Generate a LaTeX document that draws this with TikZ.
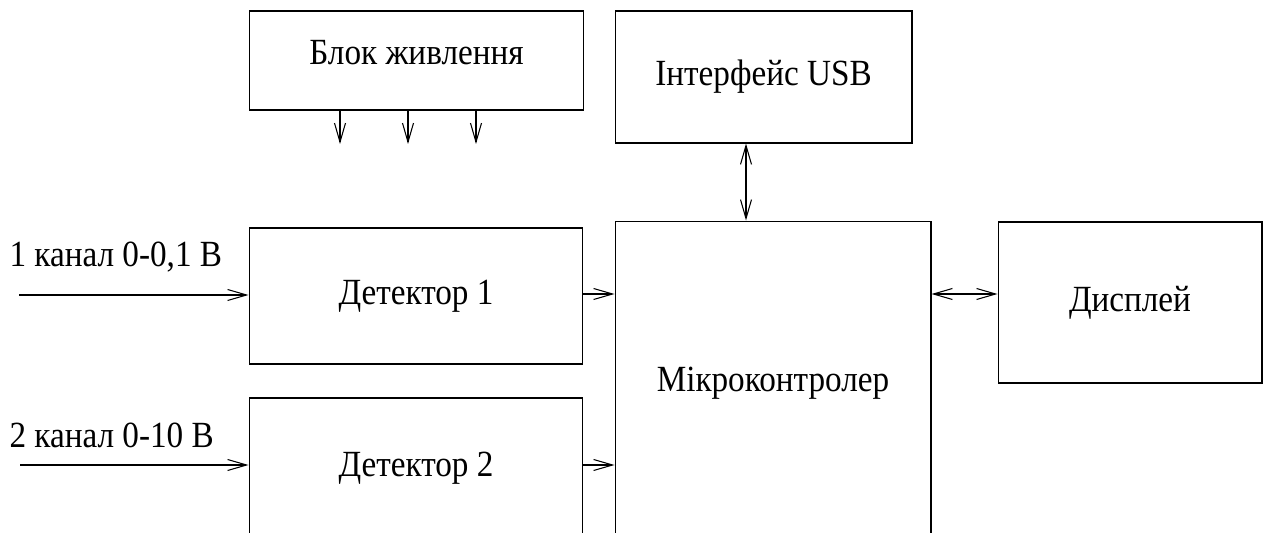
\documentclass[tikz,border=0pt]{standalone}
\usepackage{fontspec}
\setmainfont[FakeStretch=0.9]{Liberation Serif}
\usetikzlibrary{arrows.meta}
\begin{document}
\begin{tikzpicture}[x=0.02cm, y=-0.02cm, line width=0.6pt,
  blok/.style={draw, font=\fontsize{21}{25}\selectfont},
  strilka/.style={-{Straight Barb[length=0.38cm, width=0.22cm]}},
  dvi/.style={{Straight Barb[length=0.38cm, width=0.22cm]}-{Straight Barb[length=0.38cm, width=0.22cm]}}]
\useasboundingbox (0,0) rectangle (1269,533);
\clip (0,0) rectangle (1269,533);
\node[blok, minimum width=6.7cm, minimum height=1.98cm, text depth=0.32cm] (power) at (416.5,60.5) {Блок живлення};
\node[blok, minimum width=5.94cm, minimum height=2.64cm] (usb) at (763.5,77) {Інтерфейс USB};
\node[blok, minimum width=6.32cm, minimum height=6.48cm] (mcu) at (773,383) {Мікроконтролер};
\node[blok, minimum width=6.68cm, minimum height=2.72cm] (det1) at (416,296) {Детектор 1};
\node[blok, minimum width=6.68cm, minimum height=2.8cm] (det2) at (416,468) {Детектор 2};
\node[blok, minimum width=5.28cm, minimum height=3.22cm] (disp) at (1130,302.5) {Дисплей};
\node[font=\fontsize{21}{25}\selectfont, anchor=west, inner sep=0pt] (lab1) at (9,257) {1 канал 0-0,1 В};
\node[font=\fontsize{21}{25}\selectfont, anchor=west, inner sep=0pt] (lab2) at (9,435) {2 канал 0-10 В};
\coordinate (in1) at (19,295);
\coordinate (in2) at (20,465);
\coordinate (p1) at (340,144);
\coordinate (p2) at (408,144);
\coordinate (p3) at (476,144);
\foreach \p in {p1,p2,p3}
  \draw[strilka] (power.south -| \p) -- (\p);
\draw[strilka] (in1) -- (in1 -| det1.west);
\draw[strilka] (in2) -- (in2 -| det2.west);
\draw[strilka] ([yshift=0.04cm]det1.east) -- ([yshift=0.04cm]det1.east -| mcu.west);
\draw[strilka] ([yshift=0.06cm]det2.east) -- ([yshift=0.06cm]det2.east -| mcu.west);
\draw[dvi] ([xshift=-0.35cm]usb.south) -- ([xshift=-0.35cm]usb.south |- mcu.north);
\draw[dvi] ([yshift=0.17cm]disp.west -| mcu.east) -- ([yshift=0.17cm]disp.west);
\end{tikzpicture}
\end{document}
